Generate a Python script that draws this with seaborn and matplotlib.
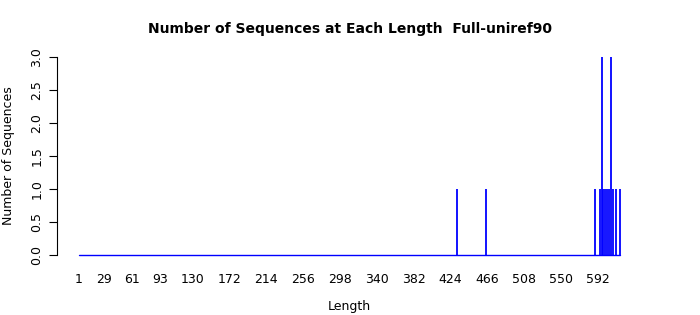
import matplotlib
matplotlib.use("Agg")
import matplotlib.pyplot as plt
import seaborn as sns
import pandas as pd

# Data
spike_lengths = [431, 464, 589, 594, 596, 598, 600, 602, 604, 607, 609, 613, 617]
spike_counts = [1, 1, 1, 1, 3, 1, 1, 1, 1, 3, 1, 1, 1]
length_min, length_max = 1, 617
xtick_values = [1, 29, 61, 93, 130, 172, 214, 256, 298, 340, 382, 424, 466, 508, 550, 592]
ytick_values = [0.0, 0.5, 1.0, 1.5, 2.0, 2.5, 3.0]

sns.set_style("white")
plt.rcParams['font.family'] = ['DejaVu Sans']
plt.rcParams['text.color'] = 'black'
plt.rcParams['axes.labelcolor'] = 'black'
plt.rcParams['xtick.color'] = 'black'
plt.rcParams['ytick.color'] = 'black'

fig = plt.figure(figsize=(7, 3.15), dpi=100)
ax = fig.add_axes([0.082, 0.1654, 0.8346, 0.6786])

df = pd.DataFrame({"Length": spike_lengths, "Count": spike_counts})
base = pd.DataFrame({"Length": [length_min, length_max], "Count": [0, 0]})
sns.lineplot(data=base, x="Length", y="Count", color="#0000FF", lw=1.0, ax=ax)
ax.vlines(df["Length"], 0, df["Count"], color="#0000FF", lw=1.3)

span = length_max - length_min
ax.set_xlim(length_min - 0.04 * span, length_max + 0.04 * span)
ax.set_ylim(-0.12, 3.12)

ax.set_xticks(xtick_values)
ax.set_xticklabels([str(v) for v in xtick_values], fontsize=9, color="black")
ax.tick_params(axis="x", length=0, pad=7, bottom=False)
ax.set_yticks(ytick_values)
ax.set_yticklabels([f"{v:.1f}" for v in ytick_values], fontsize=9, rotation=90,
                   va="center", color="black")
ax.tick_params(axis="y", left=True, length=6, width=0.8, pad=4, color="black")

for s in ["top", "right", "bottom"]:
    ax.spines[s].set_visible(False)
ax.spines["left"].set_bounds(0, 3)
ax.spines["left"].set_color("black")
ax.spines["left"].set_linewidth(0.8)

ax.set_xlabel("Length", fontsize=9, labelpad=10, color="black")
ax.set_ylabel("Number of Sequences", fontsize=9, labelpad=11, color="black")
fig.text(0.5, 0.907, "Number of Sequences at Each Length  Full-uniref90",
         ha="center", va="center", fontsize=10, fontweight="bold", color="black")

fig.savefig("out.png", dpi=100)
